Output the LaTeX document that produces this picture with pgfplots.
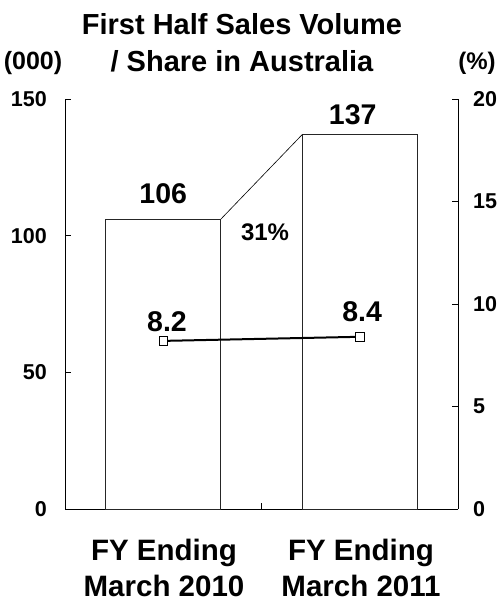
\documentclass[border=0pt]{standalone}
\usepackage{fontspec}
\setmainfont{Liberation Sans}
\usepackage{pgfplots}
\pgfplotsset{compat=1.18}
\newcommand\fs[1]{\fontsize{#1}{#1}\selectfont\bfseries}
\begin{document}
\begin{tikzpicture}[x=1pt,y=1pt]
\useasboundingbox (0,0) rectangle (497,604);
\begin{axis}[
  at={(65pt,95pt)}, anchor=south west,
  scale only axis, width=393pt, height=410pt,
  xmin=-0.5, xmax=1.5, ymin=0, ymax=150,
  axis x line*=bottom, axis y line*=left,
  axis line style={line width=0.9pt, -},
  tick align=inside, major tick length=6pt,
  tick style={line width=0.9pt, black},
  xtick={0.5}, xticklabels={},
  ytick={0,50,100,150},
  /pgf/number format/assume math mode=true,
  yticklabel style={font=\fs{21.5}, inner sep=0pt, xshift=-18pt},
  clip=false,
]
\addplot[ybar, bar width=0.585, fill=white, draw=black!85, line width=0.8pt] coordinates {(0,106) (1,137)};
\addplot[black, line width=0.6pt] coordinates {(0.2925,106) (0.7075,137)};
\node[font=\fs{28.5}] at (axis cs:0,115.4) {106};
\node[font=\fs{28.5}] at (axis cs:0.964,144.2) {137};
\node[font=\fs{24}] at (axis cs:0.518,101.4) {31\%};
\end{axis}
\begin{axis}[
  at={(65pt,95pt)}, anchor=south west,
  scale only axis, width=393pt, height=410pt,
  xmin=-0.5, xmax=1.5, ymin=0, ymax=20,
  axis y line*=right, axis x line=none,
  axis line style={line width=0.9pt, -},
  tick align=inside, major tick length=6pt,
  tick style={line width=0.9pt, black},
  ytick={0,5,10,15,20},
  /pgf/number format/assume math mode=true,
  yticklabel style={font=\fs{21.5}, inner sep=0pt, xshift=15pt},
  clip=false,
]
\addplot[black, line width=2pt, mark=square*, mark size=4.3pt,
  mark options={fill=white, draw=black, line width=0.7pt}] coordinates {(0,8.2) (1,8.4)};
\node[font=\fs{28.5}] at (axis cs:0.019,9.12) {8.2};
\node[font=\fs{28.5}] at (axis cs:1.012,9.61) {8.4};
\end{axis}
\node[font=\fs{29}, anchor=base] at (242,569) {First Half Sales Volume};
\node[font=\fs{29}, anchor=base] at (242,532) {/ Share in Australia};
\node[font=\fs{25}, anchor=base] at (33,534) {(000)};
\node[font=\fs{24}, anchor=base, inner sep=0pt] at (477,534) {(\%)};
\node[font=\fs{29.5}, anchor=base, inner sep=0pt] at (164,43) {FY Ending};
\node[font=\fs{29.5}, anchor=base, inner sep=0pt] at (164,7) {March 2010};
\node[font=\fs{29.5}, anchor=base, inner sep=0pt] at (361,43) {FY Ending};
\node[font=\fs{29.5}, anchor=base, inner sep=0pt] at (361,7) {March 2011};
\end{tikzpicture}
\end{document}
